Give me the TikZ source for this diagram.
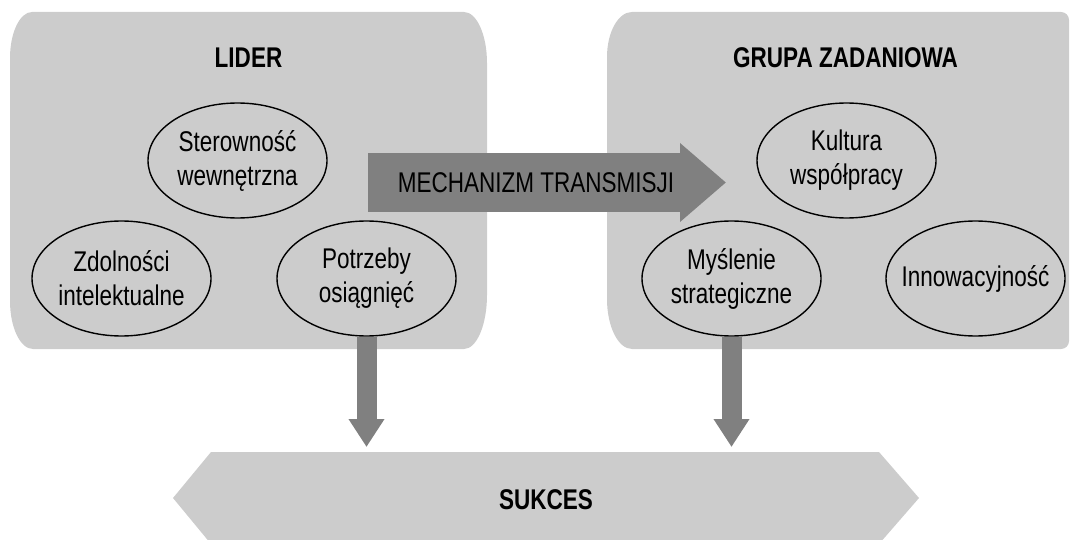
\documentclass[tikz,border=0pt]{standalone}
\usepackage{fontspec}
\setmainfont{Liberation Sans}[FakeStretch=0.79]
\usetikzlibrary{arrows.meta,calc,shapes.geometric}
\definecolor{boxgray}{HTML}{CCCCCC}
\definecolor{arrgray}{HTML}{808080}
\begin{document}
\begin{tikzpicture}[x=1pt,y=-1pt,
  txt/.style={font=\fontsize{28.5}{34}\selectfont, align=center, inner sep=0pt},
  title/.style={font=\fontsize{28.5}{34}\selectfont\bfseries, inner sep=0pt, anchor=base},
  elli/.style={draw=black, line width=1.4pt, shape=ellipse, minimum width=179pt, minimum height=115pt, inner sep=0pt},
  bigarrow/.style={draw=arrgray, line width=59pt, -{Triangle[width=76pt,length=46pt]}, arrgray},
  downarrow/.style={draw=arrgray, line width=20pt, -{Triangle[width=34pt,length=28pt]}, arrgray}
]
\useasboundingbox (0,0) rectangle (1070,540);
\clip (0,0) rectangle (1070,540);
% group boxes
\fill[boxgray] (32,12) -- (464,12) .. controls (476.7,12) and (487,34.8) .. (487,63)
  -- (487,295) .. controls (487,324.8) and (476.7,349) .. (464,349)
  -- (33,349) .. controls (20.3,349) and (10,327.5) .. (10,301)
  -- (10,58) .. controls (10,32.6) and (19.9,12) .. (32,12) -- cycle;
\fill[boxgray] (632,12) -- (1061,12) .. controls (1065.4,12) and (1069,15.6) .. (1069,20)
  -- (1069,341) .. controls (1069,345.4) and (1065.4,349) .. (1061,349)
  -- (632,349) .. controls (618.2,349) and (607,326.6) .. (607,299)
  -- (607,57) .. controls (607,32.2) and (618.2,12) .. (632,12) -- cycle;
% titles
\node[title] (lider) at (248.5,68) {LIDER};
\node[title] (grupa) at (845.5,68) {GRUPA ZADANIOWA};
% success hexagon
\fill[boxgray] (211,452) -- (879,452) -- (919,498) -- (879,544) -- (211,544) -- (173,498) -- cycle;
\coordinate (suktop) at (546,452);
\node[title] (sukces) at (546,509) {SUKCES};
% transmission arrow
\coordinate (m1) at (368,182.5);
\coordinate (m2) at (726,182.5);
\draw[bigarrow] (m1) -- (m2);
\node[txt] (mech) at (536,183) {MECHANIZM TRANSMISJI};
% ellipses
\node[elli] (ster) at (237.5,160.5) {};
\node[elli] (zdol) at (121.5,278.5) {};
\node[elli] (potr) at (366.5,278.5) {};
\node[elli] (kult) at (846.5,160.5) {};
\node[elli] (mysl) at (731.5,278.5) {};
\node[elli] (inno) at (975.5,278.5) {};
\node[txt] at (ster) {Sterowność\\wewnętrzna};
\node[txt] at (zdol) {Zdolności\\intelektualne};
\node[txt] at (potr) {Potrzeby\\osiągnięć};
\node[txt] at (kult) {Kultura\\współpracy};
\node[txt] at (mysl) {Myślenie\\strategiczne};
\node[txt] at (inno) {Innowacyjność};
% down arrows
\draw[downarrow] (potr.south) -- ($(potr.south |- suktop)+(0,-5)$);
\draw[downarrow] (mysl.south) -- ($(mysl.south |- suktop)+(0,-5)$);
\end{tikzpicture}
\end{document}
